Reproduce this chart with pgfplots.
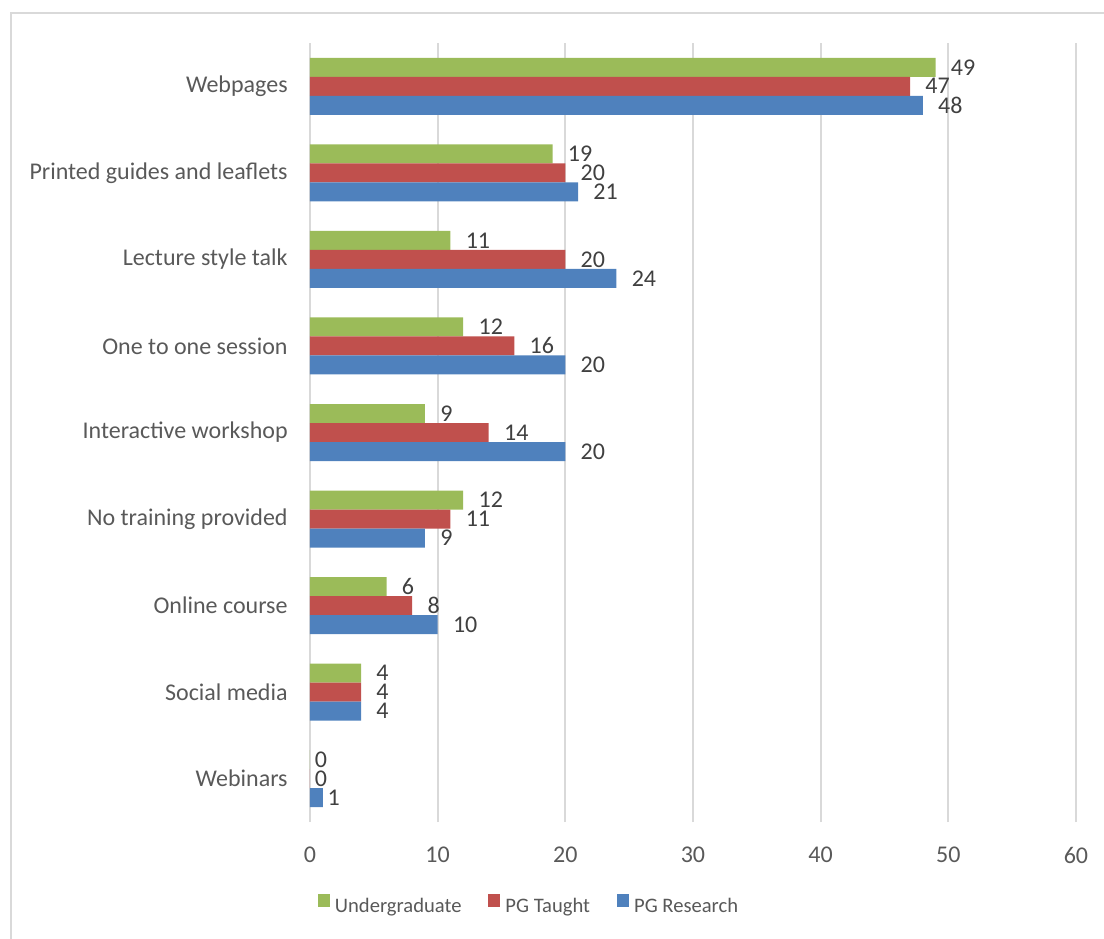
\documentclass[border=0pt]{standalone}
\usepackage{pgfplots}
\pgfplotsset{compat=1.18}
\usepackage{fontspec}
\setmainfont{Carlito}
\definecolor{cgreen}{HTML}{9BBB59}
\definecolor{cred}{HTML}{C0504D}
\definecolor{cblue}{HTML}{4F81BD}
\definecolor{gridgray}{HTML}{D9D9D9}
\definecolor{labelgray}{HTML}{595959}
\definecolor{datagray}{HTML}{404040}
\pgfplotstableread{
y U T R
8 49 47 48
7 19 20 21
6 11 20 24
5 12 16 20
4 9 14 20
3 12 11 9
2 6 8 10
1 4 4 4
0 0 0 1
}\datatable
\begin{document}
\begin{tikzpicture}
\useasboundingbox (0,0) rectangle (552pt,469pt);
\draw[gridgray, line width=1pt] (5.5pt,-20pt) rectangle (580pt,462.5pt);
\begin{axis}[
  at={(155pt,58pt)}, anchor=south west,
  scale only axis, width=383pt, height=389.5pt,
  xmin=0, xmax=60, ymin=-0.5, ymax=8.5,
  xtick={0,10,...,60},
  ytick={0,...,8},
  yticklabels={Webinars, Social media, Online course, No training provided, Interactive workshop, One to one session, Lecture style talk, Printed guides and leaflets, Webpages},
  xmajorgrids,
  grid style={draw=gridgray, line width=1pt},
  axis line style={draw=none},
  major tick length=0pt,
  /pgf/number format/assume math mode=true,
  tick label style={font=\fontsize{12}{14}\selectfont, text=labelgray},
  xticklabel style={inner sep=0pt, yshift=-12.5pt},
  yticklabel style={inner sep=0pt, xshift=-11pt},
  xbar, bar width=9.5pt,
  clip=false,
  nodes near coords,
  visualization depends on={rawy \as \ry},
  every node near coord/.append style={font=\fontsize{12}{14}\selectfont, text=datagray, inner sep=0pt, anchor=west, xshift={\ry==0 ? 2.2 : 7.5}},
  legend style={at={(axis description cs:0.2846,-0.1065)}, anchor=center, draw=none, fill=none, legend columns=3, font=\fontsize{10.3}{12}\selectfont, text=labelgray, inner sep=0pt, nodes={inner sep=0pt}, /tikz/every odd column/.append style={column sep=2.5pt}, /tikz/every even column/.append style={column sep=13.5pt}},
  legend image code/.code={\fill[#1] (0pt,0pt) rectangle (6pt,6.5pt);},
]
\addplot[fill=cgreen, draw=none, bar shift=9.5pt] table[x=U, y=y] {\datatable};
\addlegendentry{Undergraduate}
\addplot[fill=cred, draw=none, bar shift=0pt] table[x=T, y=y] {\datatable};
\addlegendentry{PG Taught}
\addplot[fill=cblue, draw=none, bar shift=-9.5pt] table[x=R, y=y] {\datatable};
\addlegendentry{PG Research}
\end{axis}
\end{tikzpicture}
\end{document}
